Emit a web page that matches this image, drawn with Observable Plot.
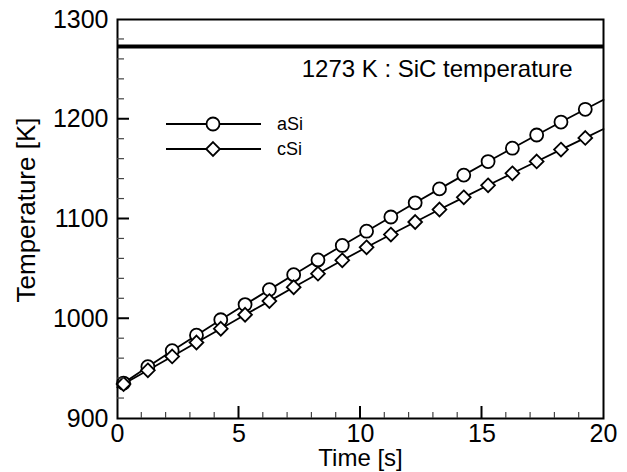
<!DOCTYPE html>
<html><head><meta charset="utf-8">
<script src="https://cdn.jsdelivr.net/npm/d3@7"></script>
<script src="https://cdn.jsdelivr.net/npm/@observablehq/plot@0.6"></script>
<style>
html,body{margin:0;padding:0;background:#fff;}
#chart{position:relative;width:627px;height:472px;}
#chart svg{display:block}
#legend{position:absolute;left:0;top:0;pointer-events:none}
</style></head><body><div id="chart"></div>
<script>
// ---- data ----
const time = [0, 0.25, 1.25, 2.25, 3.25, 4.25, 5.25, 6.25, 7.25, 8.25, 9.25, 10.25, 11.25, 12.25, 13.25, 14.25, 15.25, 16.25, 17.25, 18.25, 19.25, 20];
const aSi = [931.5, 935.5, 952, 968, 983.5, 999, 1014.2, 1029.2, 1044.2, 1059, 1073.5, 1087.8, 1102, 1116.2, 1130.2, 1144, 1157.6, 1171, 1184.2, 1197.2, 1210, 1219.5];
const cSi = [931, 934.5, 948.3, 962.2, 976.2, 990, 1004, 1017.7, 1031.6, 1045.2, 1058.6, 1071.6, 1084.4, 1097, 1109.5, 1121.7, 1133.8, 1145.8, 1157.7, 1169.6, 1181.3, 1190.2];
const seriesNames = ["aSi", "cSi"];
const sicTemp = 1273;
const sicLabel = "1273 K : SiC temperature";
const xTitle = "Time [s]";
const yTitle = "Temperature [K]";
const xTicks = [0, 5, 10, 15, 20];
const yTicks = [900, 1000, 1100, 1200, 1300];
const xMinor = [1, 2, 3, 4, 6, 7, 8, 9, 11, 12, 13, 14, 16, 17, 18, 19];
const yMinor = [920, 940, 960, 980, 1020, 1040, 1060, 1080, 1120, 1140, 1160, 1180, 1220, 1240, 1260, 1280];

const rows = time.map((t, i) => ({time: t, aSi: aSi[i], cSi: cSi[i], marker: i > 0 && i < time.length - 1}));
const markerRows = rows.filter(d => d.marker);

const FONT = "'Liberation Sans', Arial, Helvetica, sans-serif";

const plot = Plot.plot({
  width: 627, height: 472,
  marginLeft: 117, marginRight: 24, marginTop: 19, marginBottom: 54,
  style: {fontFamily: FONT, background: "white", color: "black", overflow: "visible"},
  x: {domain: [0, 20], axis: null},
  y: {domain: [900, 1300], axis: null},
  marks: [
    Plot.ruleY([sicTemp], {stroke: "black", strokeWidth: 4}),
    Plot.text([{t: sicLabel, y: sicTemp}], {text: "t", y: "y", frameAnchor: "right", dx: -31, dy: 23, textAnchor: "end", lineAnchor: "middle", fontSize: 24, fill: "black"}),
    Plot.line(rows, {x: "time", y: "aSi", stroke: "black", strokeWidth: 1.8}),
    Plot.line(rows, {x: "time", y: "cSi", stroke: "black", strokeWidth: 1.8}),
    Plot.dot(markerRows, {x: "time", y: "aSi", r: 6.5, symbol: "circle", fill: "white", stroke: "black", strokeWidth: 1.8}),
    Plot.dot(markerRows, {x: "time", y: "cSi", r: 6.2, symbol: "diamond2", fill: "white", stroke: "black", strokeWidth: 1.8}),
    // tick labels through the scales
    Plot.text(xTicks, {x: d => d, text: d => String(d), frameAnchor: "bottom", lineAnchor: "top", textAnchor: "middle", dy: 6, fontSize: 25, fill: "black"}),
    Plot.text(yTicks, {y: d => d, text: d => String(d), frameAnchor: "left", lineAnchor: "middle", textAnchor: "end", dx: -9, fontSize: 25, fill: "black"}),
    Plot.text([xTitle], {frameAnchor: "bottom", textAnchor: "middle", lineAnchor: "middle", dy: 40, fontSize: 24, fill: "black"}),
    Plot.text([yTitle], {frameAnchor: "left", textAnchor: "middle", lineAnchor: "middle", rotate: -90, dx: -91, dy: -9, fontSize: 26, fill: "black"}),
    Plot.frame({stroke: "black", strokeWidth: 2})
  ]
});

document.getElementById("chart").appendChild(plot);

// inward ticks drawn with Plot's own scales
const xs = plot.scale("x"), ys = plot.scale("y");
const svg = d3.select(plot);
const g = svg.append("g").attr("stroke-linecap", "butt");
const yBottom = ys.apply(900), xLeft = xs.apply(0);
xTicks.slice(1, -1).forEach(v => g.append("line").attr("x1", xs.apply(v)).attr("x2", xs.apply(v)).attr("y1", yBottom).attr("y2", yBottom - 12).attr("stroke", "black").attr("stroke-width", 2));
xMinor.forEach(v => g.append("line").attr("x1", xs.apply(v)).attr("x2", xs.apply(v)).attr("y1", yBottom).attr("y2", yBottom - 6).attr("stroke", "#444").attr("stroke-width", 1.2));
yTicks.slice(1, -1).forEach(v => g.append("line").attr("y1", ys.apply(v)).attr("y2", ys.apply(v)).attr("x1", xLeft).attr("x2", xLeft + 12).attr("stroke", "black").attr("stroke-width", 2));
yMinor.forEach(v => g.append("line").attr("y1", ys.apply(v)).attr("y2", ys.apply(v)).attr("x1", xLeft).attr("x2", xLeft + 7).attr("stroke", "#444").attr("stroke-width", 1.2));

// legend overlay
const leg = d3.select("#chart").append("svg").attr("id", "legend").attr("width", 627).attr("height", 472)
  .style("font-family", FONT);
const symbols = [d3.symbolCircle, d3.symbolDiamond2];
const symR = [6.5, 6.2];
seriesNames.forEach((name, i) => {
  const y = 124 + i * 25;
  leg.append("line").attr("x1", 166).attr("x2", 261).attr("y1", y).attr("y2", y).attr("stroke", "black").attr("stroke-width", 1.8);
  leg.append("path").attr("d", d3.symbol(symbols[i], Math.PI * symR[i] * symR[i])()).attr("transform", `translate(213,${y})`)
    .attr("fill", "white").attr("stroke", "black").attr("stroke-width", 1.8);
  leg.append("text").attr("x", 277).attr("y", y).attr("dy", "0.35em").attr("font-size", 18).text(name);
});
</script></body></html>
